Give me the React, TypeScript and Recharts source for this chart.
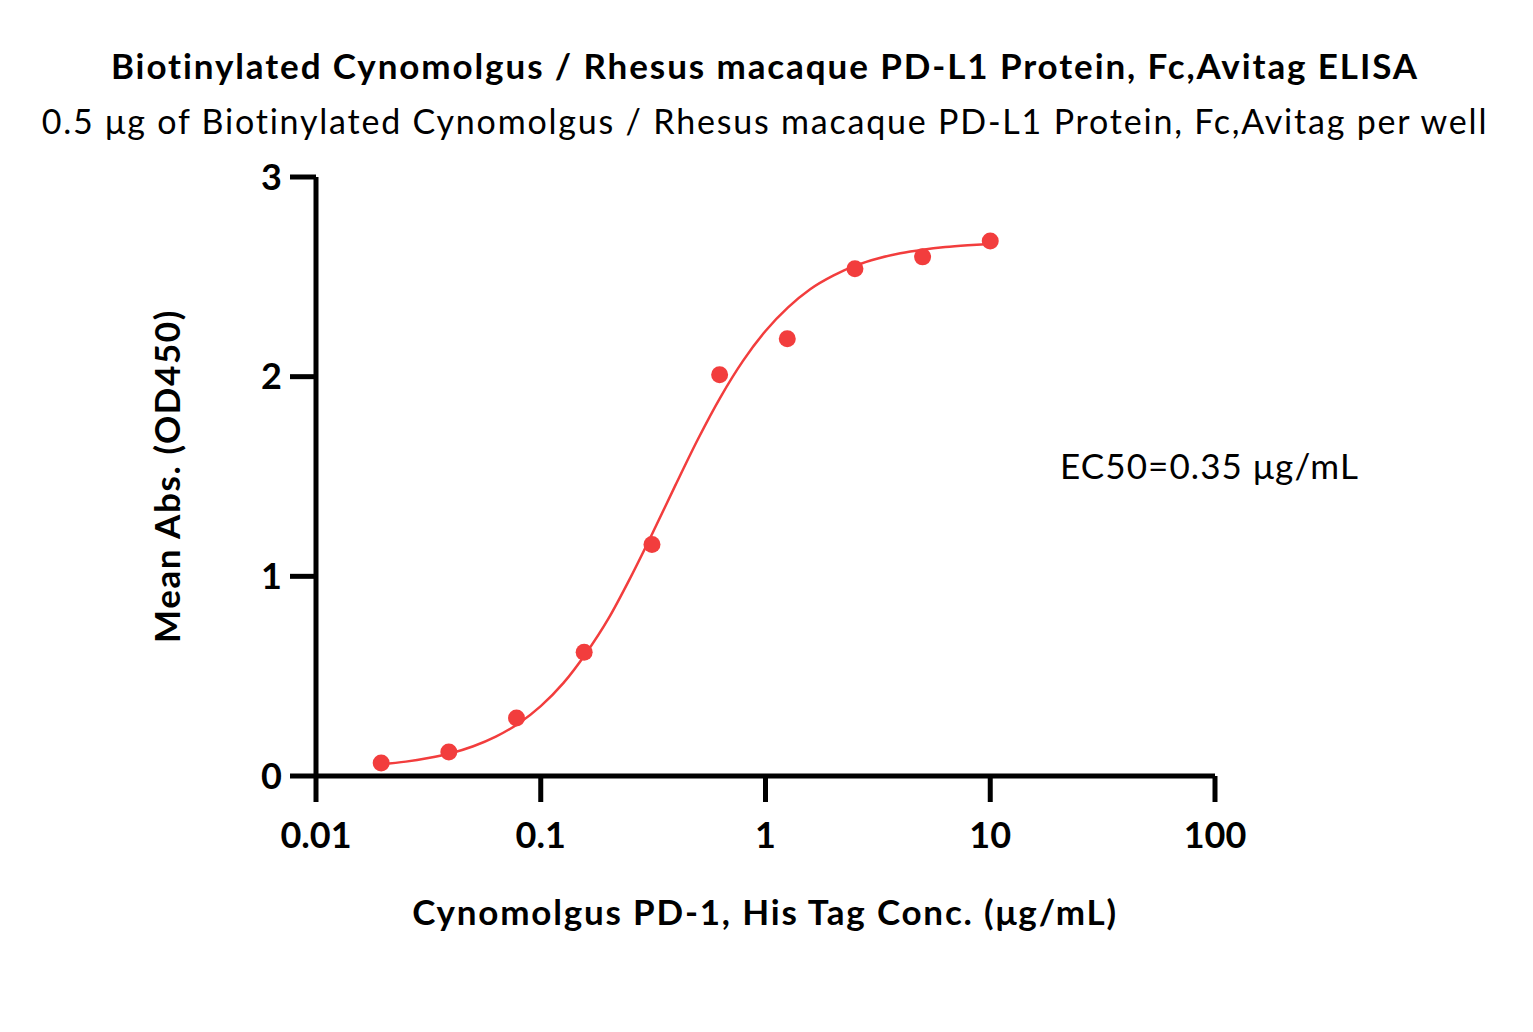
import React from "react";
import { ComposedChart, Line, Scatter, XAxis, YAxis } from "recharts";

// measured points (ug/mL vs OD450)
const concentrations = [0.0195, 0.039, 0.078, 0.156, 0.3125, 0.625, 1.25, 2.5, 5, 10];
const meanAbs = [0.065, 0.12, 0.29, 0.62, 1.16, 2.01, 2.19, 2.54, 2.6, 2.68];

// fitted curve
const fitConc = [
  0.0195, 0.0251, 0.0316, 0.0398, 0.0501, 0.0631, 0.0794, 0.1, 0.126, 0.158, 0.2, 0.251, 0.316, 0.398,
  0.501, 0.631, 0.794, 1, 1.26, 1.58, 2, 2.51, 3.16, 3.98, 5.01, 6.31, 7.94, 10,
];
const fitAbs = [
  0.059, 0.072, 0.09, 0.114, 0.149, 0.197, 0.262, 0.35, 0.465, 0.61, 0.788, 0.995, 1.222, 1.458,
  1.688, 1.898, 2.079, 2.229, 2.347, 2.438, 2.506, 2.556, 2.592, 2.618, 2.636, 2.649, 2.658, 2.665,
];

const xTicks = [0.01, 0.1, 1, 10, 100];
const yTicks = [0, 1, 2, 3];

const RED = "#F23D3D";
const FONT = "Lato, 'Open Sans', sans-serif";

const points = concentrations.map((x, i) => ({ x, y: meanAbs[i] }));
const curve = fitConc.map((x, i) => ({ x, y: fitAbs[i] }));

const tickStyle = { fill: "#000", fontSize: 36, fontWeight: 700, fontFamily: FONT };

const App = () => {
  return (
    <div style={{ position: "absolute", left: 0, top: 0, width: 1533, height: 1032, background: "#fff" }}>
      <ComposedChart
        width={1533}
        height={1032}
        margin={{ top: 177, right: 318, bottom: 196, left: 256 }}
      >
        <XAxis
          type="number"
          dataKey="x"
          scale="log"
          domain={[0.01, 100]}
          ticks={xTicks}
          allowDataOverflow
          height={60}
          stroke="#000"
          strokeWidth={5}
          tickSize={26}
          tickMargin={20}
          tick={tickStyle}
          tickFormatter={(v) => String(v)}
        />
        <YAxis
          type="number"
          dataKey="y"
          domain={[0, 3]}
          ticks={yTicks}
          width={60}
          stroke="#000"
          strokeWidth={5}
          tickSize={26}
          tickMargin={8}
          tick={tickStyle}
        />
        <Line
          data={curve}
          dataKey="y"
          type="monotone"
          stroke={RED}
          strokeWidth={2.5}
          dot={false}
          isAnimationActive={false}
        />
        <Scatter
          data={points}
          dataKey="y"
          fill={RED}
          shape={(p: any) => <circle cx={p.cx} cy={p.cy} r={8.5} fill={RED} />}
          isAnimationActive={false}
        />
      </ComposedChart>
      <svg
        width={1533}
        height={1032}
        style={{ position: "absolute", left: 0, top: 0, pointerEvents: "none" }}
        fontFamily={FONT}
      >
        <text x={765} y={79} textAnchor="middle" fontSize={35} fontWeight={700} letterSpacing={1.9} fill="#000">
          Biotinylated Cynomolgus / Rhesus macaque PD-L1 Protein, Fc,Avitag ELISA
        </text>
        <text x={765} y={134} textAnchor="middle" fontSize={34} letterSpacing={1.8} fill="#000">
          0.5 μg of Biotinylated Cynomolgus / Rhesus macaque PD-L1 Protein, Fc,Avitag per well
        </text>
        <text x={1060} y={479} fontSize={35} letterSpacing={1.1} fill="#000">
          EC50=0.35 μg/mL
        </text>
        <text x={765} y={925} textAnchor="middle" fontSize={35} fontWeight={700} letterSpacing={1.8} fill="#000">
          Cynomolgus PD-1, His Tag Conc. (μg/mL)
        </text>
        <text
          x={0}
          y={0}
          transform="translate(180,476) rotate(-90)"
          textAnchor="middle"
          fontSize={35}
          fontWeight={700}
          letterSpacing={1.6}
          fill="#000"
        >
          Mean Abs. (OD450)
        </text>
      </svg>
    </div>
  );
};

export default App;
